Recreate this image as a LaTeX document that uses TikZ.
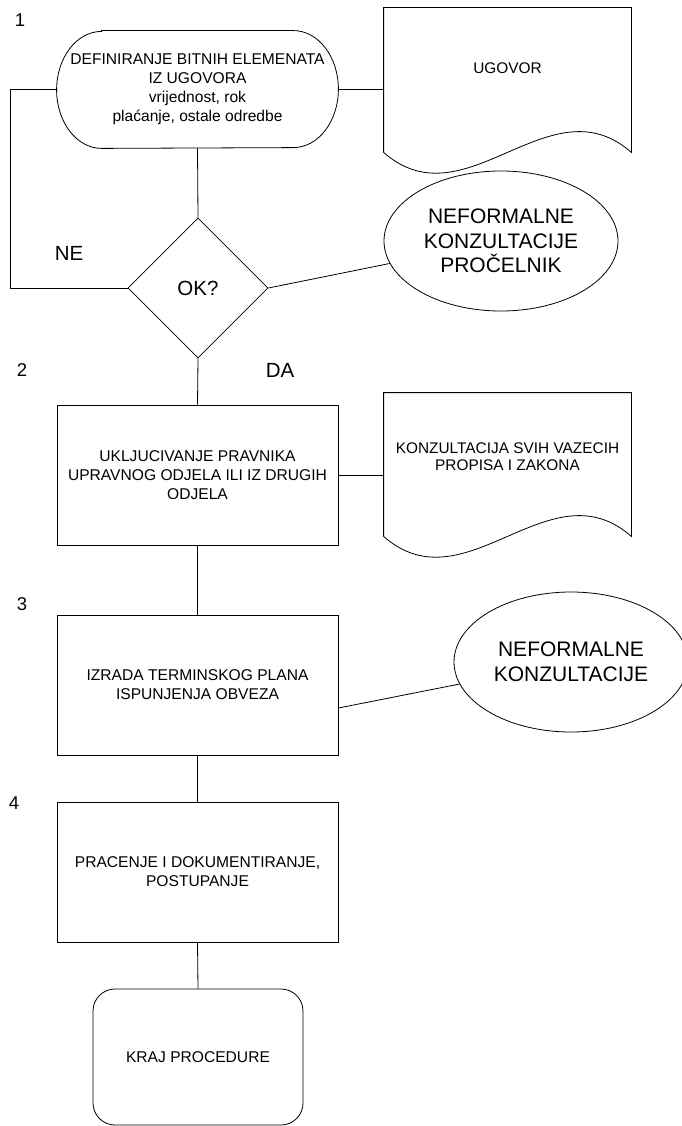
\documentclass[tikz,border=0pt]{standalone}
\usepackage{fontspec}
\setmainfont{Liberation Sans}
\usetikzlibrary{shapes.geometric,calc}
\begin{document}
\begin{tikzpicture}[x=1pt,y=-1pt,line width=0.8pt,
  txt/.style={font=\fontsize{15.6}{19}\selectfont,align=center,inner sep=0pt},
  doctxt/.style={font=\fontsize{15.4}{17}\selectfont,align=center,inner sep=0pt},
  big/.style={font=\fontsize{21}{24.5}\selectfont,align=center,inner sep=0pt},
  lbl/.style={font=\fontsize{20.5}{24}\selectfont,inner sep=0pt},
  num/.style={font=\fontsize{18.5}{22}\selectfont,inner sep=0pt},
  procbox/.style={draw,rectangle,minimum width=281pt,minimum height=140pt,txt},
  docframe/.style={rectangle,minimum width=247pt,inner sep=0pt},
  cloud/.style={draw,ellipse,minimum width=234pt,minimum height=140pt,big},
]
\clip (0,0) rectangle (682,1126);
\fill[white] (0,0) rectangle (682,1126);

% step numbers
\node[num] (n1) at (20,20) {1};
\node[num] (n2) at (22,370) {2};
\node[num] (n3) at (22,604) {3};
\node[num] (n4) at (14,803) {4};

% start terminator
\node[txt,rectangle,minimum width=281pt,minimum height=117pt] (t1) at (197.5,89.5)
  {DEFINIRANJE BITNIH ELEMENATA\\IZ UGOVORA\\vrijednost, rok\\pla\'{c}anje, ostale odredbe};
\draw ([xshift=45pt]t1.north west) -- ([xshift=-45pt]t1.north east)
  arc[start angle=90,end angle=-90,x radius=45pt,y radius=58.5pt]
  -- ([xshift=45pt]t1.south west)
  arc[start angle=270,end angle=90,x radius=45pt,y radius=58.5pt] -- cycle;

% document UGOVOR
\node[docframe,minimum height=144pt] (doc1) at (507.5,80) {};
\draw (doc1.south west) -- (doc1.north west) -- (doc1.north east) -- (doc1.south east)
  .. controls ($(doc1.south east)+(-82,-72)$) and ($(doc1.south west)+(82,72)$) .. (doc1.south west);
\node[doctxt] (doc1t) at ([yshift=12pt]doc1.center) {UGOVOR};

% decision
\node[draw,diamond,minimum width=140pt,minimum height=140pt,inner sep=0pt,lbl] (dec) at (198,288) {OK?};
\node[lbl] (ne) at (69,253) {NE};
\node[lbl] (da) at (280,370) {DA};

% informal consultation 1
\node[cloud] (ne1) at (501,241) {NEFORMALNE\\KONZULTACIJE\\PRO\v{C}ELNIK};

% step 2
\node[procbox] (b2) at (197.5,475) {UKLJUCIVANJE PRAVNIKA\\UPRAVNOG ODJELA ILI IZ DRUGIH\\ODJELA};
\node[docframe,minimum height=143pt] (doc2) at (507.5,464.5) {};
\draw (doc2.south west) -- (doc2.north west) -- (doc2.north east) -- (doc2.south east)
  .. controls ($(doc2.south east)+(-82,-72)$) and ($(doc2.south west)+(82,72)$) .. (doc2.south west);
\node[doctxt] (doc2t) at ([yshift=8pt]doc2.center) {KONZULTACIJA SVIH VAZECIH\\PROPISA I ZAKONA};

% step 3
\node[procbox] (b3) at (197.5,685) {IZRADA TERMINSKOG PLANA\\ISPUNJENJA OBVEZA};
\node[cloud] (ne2) at (571,662) {NEFORMALNE\\KONZULTACIJE};

% step 4
\node[procbox] (b4) at (197.5,872) {PRACENJE I DOKUMENTIRANJE,\\POSTUPANJE};

% end
\node[draw,rectangle,rounded corners=22pt,minimum width=210pt,minimum height=136pt,txt] (end) at (198,1057) {KRAJ PROCEDURE};

% connectors
\draw (t1.south) -- (dec.north);
\draw (dec.west) -| ($(t1.west)+(-46,0)$) -- (t1.west);
\draw (t1.east) -- (t1.east -| doc1.west);
\draw (dec.east) -- (ne1);
\draw (dec.south) -- (b2.north);
\draw (b2.east) -- (b2.east -| doc2.west);
\draw (b2.south) -- (b3.north);
\draw ([yshift=-23pt]b3.east) -- (ne2);
\draw (b3.south) -- (b4.north);
\draw (b4.south) -- (end.north);
\end{tikzpicture}
\end{document}
